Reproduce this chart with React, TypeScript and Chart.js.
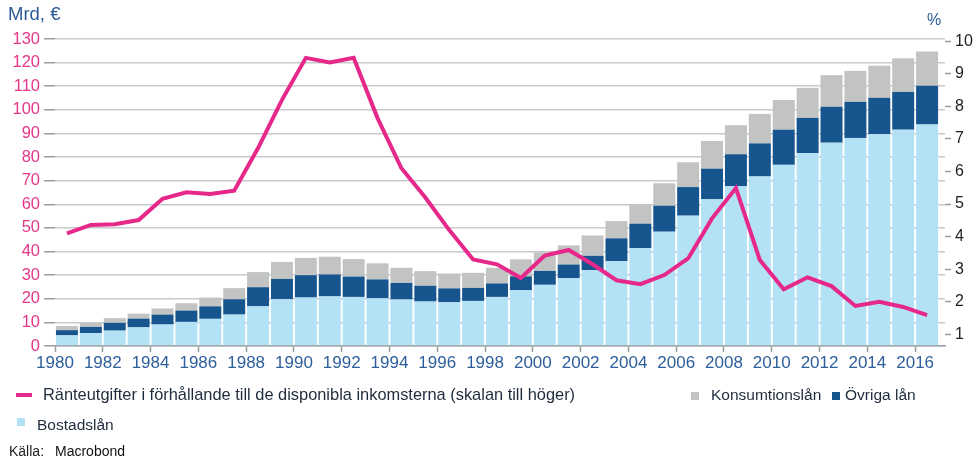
import React, { useEffect, useRef } from "react";
import { Chart, registerables } from "chart.js";

Chart.register(...registerables);

const years = [
  1980, 1981, 1982, 1983, 1984, 1985, 1986, 1987, 1988, 1989,
  1990, 1991, 1992, 1993, 1994, 1995, 1996, 1997, 1998, 1999,
  2000, 2001, 2002, 2003, 2004, 2005, 2006, 2007, 2008, 2009,
  2010, 2011, 2012, 2013, 2014, 2015, 2016,
];

// Mrd € (left axis)
const bostadslan = [
  4.5, 5.5, 6.5, 7.9, 9.1, 10.2, 11.5, 13.3, 16.8, 19.8,
  20.5, 21.0, 20.8, 20.2, 19.7, 18.8, 18.5, 19.1, 20.8, 23.6,
  25.9, 28.7, 32.1, 35.9, 41.5, 48.4, 55.2, 62.1, 67.6, 71.8,
  76.7, 81.7, 86.1, 88.1, 89.7, 91.6, 93.8,
];
const ovrigaLan = [
  2.2, 2.6, 3.3, 3.7, 4.2, 4.8, 5.3, 6.5, 8.1, 8.6,
  9.5, 9.3, 8.6, 8.0, 7.0, 6.7, 5.9, 5.5, 5.7, 5.9,
  5.9, 5.8, 6.1, 9.7, 10.3, 11.0, 12.1, 13.0, 13.6, 14.0,
  14.9, 14.9, 15.2, 15.3, 15.4, 16.0, 16.4,
];
const konsumtionslan = [
  1.8, 1.7, 2.0, 2.1, 2.6, 3.1, 3.7, 4.7, 6.4, 7.2,
  7.3, 7.5, 7.4, 6.8, 6.4, 6.2, 6.3, 6.4, 6.6, 7.2,
  7.9, 8.1, 8.6, 7.3, 8.2, 9.5, 10.5, 11.7, 12.3, 12.5,
  12.6, 12.7, 13.4, 13.1, 13.6, 14.2, 14.5,
];
// % (right axis)
const ranteutgifter = [
  4.1, 4.36, 4.38, 4.51, 5.16, 5.36, 5.31, 5.41, 6.72, 8.2,
  9.49, 9.35, 9.49, 7.64, 6.1, 5.2, 4.2, 3.3, 3.15, 2.73,
  3.42, 3.59, 3.15, 2.66, 2.54, 2.82, 3.33, 4.56, 5.49, 3.28,
  2.38, 2.75, 2.48, 1.87, 2.0, 1.84, 1.59,
];

const xTickYears = [
  1980, 1982, 1984, 1986, 1988, 1990, 1992, 1994, 1996, 1998,
  2000, 2002, 2004, 2006, 2008, 2010, 2012, 2014, 2016,
];
const leftTicks = [0, 10, 20, 30, 40, 50, 60, 70, 80, 90, 100, 110, 120, 130];
const rightTicks = [1, 2, 3, 4, 5, 6, 7, 8, 9, 10];

const labels = {
  leftUnit: "Mrd, €",
  rightUnit: "%",
  line: "Ränteutgifter i förhållande till de disponibla inkomsterna (skalan till höger)",
  konsum: "Konsumtionslån",
  ovriga: "Övriga lån",
  bostad: "Bostadslån",
  source: "Källa:",
  sourceName: "Macrobond",
};

const COLORS = {
  light: "#b3e1f6",
  dark: "#17558f",
  gray: "#c2c3c3",
  pink: "#e5288a",
  grid: "#c9cacd",
  tick: "#9a9ca0",
  leftText: "#e4368a",
  xText: "#2d5f9c",
  rightText: "#1e1e1e",
  unit: "#2a5a96",
  legendText: "#1e2b3c",
};

const FONT = "'Liberation Sans', Arial, sans-serif";

function Txt(props: {
  x: number;
  baseline: number;
  size: number;
  color: string;
  children: React.ReactNode;
}) {
  const { x, baseline, size, color, children } = props;
  return (
    <div
      style={{
        position: "absolute",
        left: x,
        top: baseline - 0.8465 * size,
        fontSize: size,
        lineHeight: `${size}px`,
        fontFamily: FONT,
        color,
        whiteSpace: "nowrap",
      }}
    >
      {children}
    </div>
  );
}

function Box(props: { x: number; y: number; w: number; h: number; color: string }) {
  const { x, y, w, h, color } = props;
  return (
    <div
      style={{
        position: "absolute",
        left: x,
        top: y,
        width: w,
        height: h,
        background: color,
      }}
    />
  );
}

export default function App() {
  const canvasRef = useRef<HTMLCanvasElement | null>(null);

  useEffect(() => {
    const canvas = canvasRef.current;
    if (!canvas) return;
    const pts = (arr: number[]) => years.map((y, i) => ({ x: y + 0.5, y: arr[i] }));

    const chart = new Chart(canvas, {
      type: "bar",
      data: {
        datasets: [
          {
            type: "line",
            label: labels.line,
            data: pts(ranteutgifter),
            yAxisID: "y1",
            borderColor: COLORS.pink,
            backgroundColor: COLORS.pink,
            borderWidth: 4,
            pointRadius: 0,
            tension: 0,
            order: 0,
          } as any,
          {
            label: labels.bostad,
            data: pts(bostadslan),
            backgroundColor: COLORS.light,
            yAxisID: "y",
            order: 1,
          },
          {
            label: labels.ovriga,
            data: pts(ovrigaLan),
            backgroundColor: COLORS.dark,
            yAxisID: "y",
            order: 1,
          },
          {
            label: labels.konsum,
            data: pts(konsumtionslan),
            backgroundColor: COLORS.gray,
            yAxisID: "y",
            order: 1,
          },
        ],
      },
      options: {
        responsive: false,
        animation: false,
        devicePixelRatio: 1,
        layout: { padding: { top: 39, left: 0, right: 0, bottom: 0 } },
        datasets: {
          bar: { categoryPercentage: 1, barPercentage: 0.92, borderWidth: 0 },
        },
        plugins: {
          legend: { display: false },
          tooltip: { enabled: false },
          title: { display: false },
        },
        scales: {
          x: {
            type: "linear",
            stacked: true,
            offset: false,
            min: 1980,
            max: 2017.25,
            afterFit: (s: any) => {
              s.height = 113;
            },
            afterBuildTicks: (s: any) => {
              s.ticks = xTickYears.map((v) => ({ value: v }));
            },
            grid: {
              offset: false,
              drawOnChartArea: false,
              drawTicks: true,
              tickLength: 6,
              tickColor: COLORS.tick,
              tickWidth: 1.5,
            },
            border: { display: true, color: COLORS.tick, width: 1.5 },
            ticks: {
              autoSkip: false,
              maxRotation: 0,
              padding: 1,
              color: COLORS.xText,
              font: { family: FONT, size: 17 },
              callback: (v: any) => String(v),
            },
          },
          y: {
            type: "linear",
            position: "left",
            stacked: true,
            min: 0,
            max: 130,
            afterFit: (s: any) => {
              s.width = 55;
            },
            afterBuildTicks: (s: any) => {
              s.ticks = leftTicks.map((v) => ({ value: v }));
            },
            grid: {
              color: COLORS.grid,
              lineWidth: 1.5,
              tickLength: 11,
              tickColor: COLORS.tick,
              tickWidth: 1.5,
            },
            border: { display: false },
            ticks: {
              padding: 4,
              color: COLORS.leftText,
              font: { family: FONT, size: 16.5 },
            },
          },
          y1: {
            type: "linear",
            position: "right",
            min: 0.64,
            max: 10.07,
            afterFit: (s: any) => {
              s.width = 32;
            },
            afterBuildTicks: (s: any) => {
              s.ticks = rightTicks.map((v) => ({ value: v }));
            },
            grid: {
              drawOnChartArea: false,
              tickLength: 6,
              tickColor: COLORS.tick,
              tickWidth: 1.5,
            },
            border: { display: false },
            ticks: {
              padding: 4,
              color: COLORS.rightText,
              font: { family: FONT, size: 16 },
            },
          },
        },
      } as any,
    });
    return () => chart.destroy();
  }, []);

  return (
    <div
      style={{
        position: "absolute",
        left: 0,
        top: 0,
        width: 977,
        height: 459,
        background: "#ffffff",
        overflow: "hidden",
      }}
    >
      <canvas
        ref={canvasRef}
        width={977}
        height={459}
        style={{ position: "absolute", left: 0, top: 0, width: 977, height: 459 }}
      />
      <Txt x={8} baseline={20.7} size={18.5} color={COLORS.unit}>
        {labels.leftUnit}
      </Txt>
      <Txt x={927} baseline={26} size={16} color={COLORS.unit}>
        {labels.rightUnit}
      </Txt>

      <Box x={16} y={393} w={16} h={4} color={COLORS.pink} />
      <Txt x={43} baseline={400} size={16.4} color={COLORS.legendText}>
        {labels.line}
      </Txt>

      <Box x={691} y={392} w={8} h={8} color={COLORS.gray} />
      <Txt x={711} baseline={400} size={15.5} color={COLORS.legendText}>
        {labels.konsum}
      </Txt>
      <Box x={832} y={392} w={8} h={8} color={COLORS.dark} />
      <Txt x={845} baseline={400} size={15.5} color={COLORS.legendText}>
        {labels.ovriga}
      </Txt>

      <Box x={17} y={418} w={8} h={8} color={COLORS.light} />
      <Txt x={37} baseline={430} size={15.5} color={COLORS.legendText}>
        {labels.bostad}
      </Txt>

      <Txt x={9} baseline={456} size={14} color="#222222">
        {labels.source}
      </Txt>
      <Txt x={55} baseline={456} size={14} color="#111111">
        {labels.sourceName}
      </Txt>
    </div>
  );
}
